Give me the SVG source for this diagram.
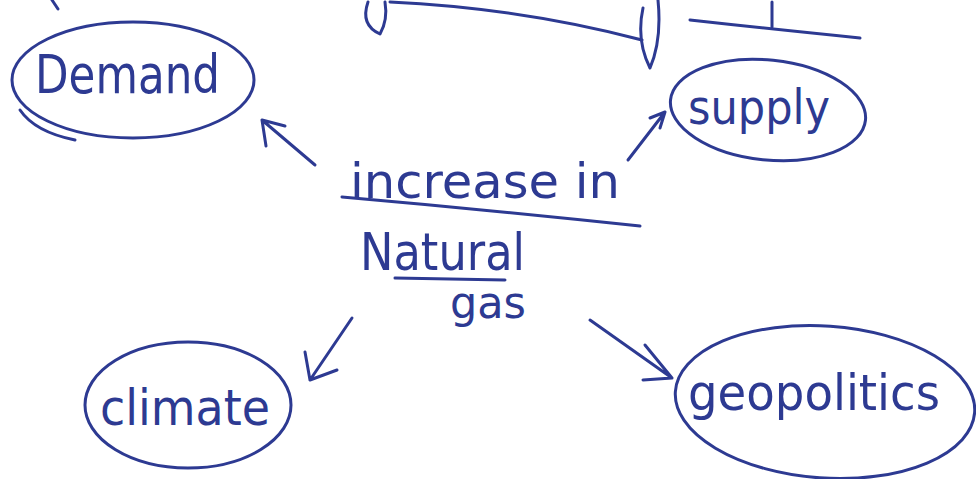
<svg xmlns="http://www.w3.org/2000/svg" width="976" height="479" viewBox="0 0 976 479">
<style>
.ink{fill:none;stroke:#2d3a92;stroke-width:3;stroke-linecap:round;stroke-linejoin:round}
.t{fill:#2d3a92;font-family:"DejaVu Sans","Liberation Sans",sans-serif}
</style>
<rect width="976" height="479" fill="#ffffff"/>
<g id="top-fragments">
<path class="ink" d="M390,2 Q520,8 642,40"/>
<path class="ink" d="M368,2 Q360,25 380,34 Q388,20 385,2"/>
<path class="ink" d="M643,8 Q636,40 650,68 Q662,40 658,0"/>
<path class="ink" d="M690,20 Q780,30 860,38"/>
<path class="ink" d="M772,2 L772,27"/>
<path class="ink" d="M52,0 Q56,6 58,9"/>
</g>
<g id="node-center">
<text class="t" x="350" y="198" font-size="48" textLength="270" lengthAdjust="spacingAndGlyphs">increase in</text>
<path class="ink" d="M342,197 Q490,210 640,226"/>
<text class="t" x="360" y="270" font-size="52" textLength="165" lengthAdjust="spacingAndGlyphs">Natural</text>
<path class="ink" d="M395,278 L505,280"/>
<text class="t" x="450" y="318" font-size="44" textLength="76" lengthAdjust="spacingAndGlyphs">gas</text>
</g>
<g id="node-demand">
<ellipse class="ink" cx="133" cy="80" rx="121" ry="58"/>
<path class="ink" d="M20,110 Q35,132 75,140"/>
<text class="t" x="35" y="93" font-size="54" textLength="185" lengthAdjust="spacingAndGlyphs">Demand</text>
</g>
<g id="node-supply">
<ellipse class="ink" cx="768" cy="110" rx="98" ry="50" transform="rotate(6 768 110)"/>
<text class="t" x="688" y="124" font-size="48" textLength="142" lengthAdjust="spacingAndGlyphs">supply</text>
</g>
<g id="node-climate">
<ellipse class="ink" cx="188" cy="405" rx="103" ry="63"/>
<text class="t" x="100" y="425" font-size="50" textLength="170" lengthAdjust="spacingAndGlyphs">climate</text>
</g>
<g id="node-geopolitics">
<ellipse class="ink" cx="825" cy="402" rx="150" ry="76" transform="rotate(4 825 402)"/>
<text class="t" x="688" y="410" font-size="50" textLength="252" lengthAdjust="spacingAndGlyphs">geopolitics</text>
</g>
<g id="connectors">
<path class="ink" d="M315,165 L262,120 M262,120 L266,146 M262,120 L285,126"/>
<path class="ink" d="M628,160 L665,112 M665,112 L650,118 M665,112 L660,128"/>
<path class="ink" d="M352,318 L310,380 M310,380 L305,352 M310,380 L337,370"/>
<path class="ink" d="M590,320 L672,378 M672,378 L645,345 M672,378 L643,380"/>
</g>
</svg>
